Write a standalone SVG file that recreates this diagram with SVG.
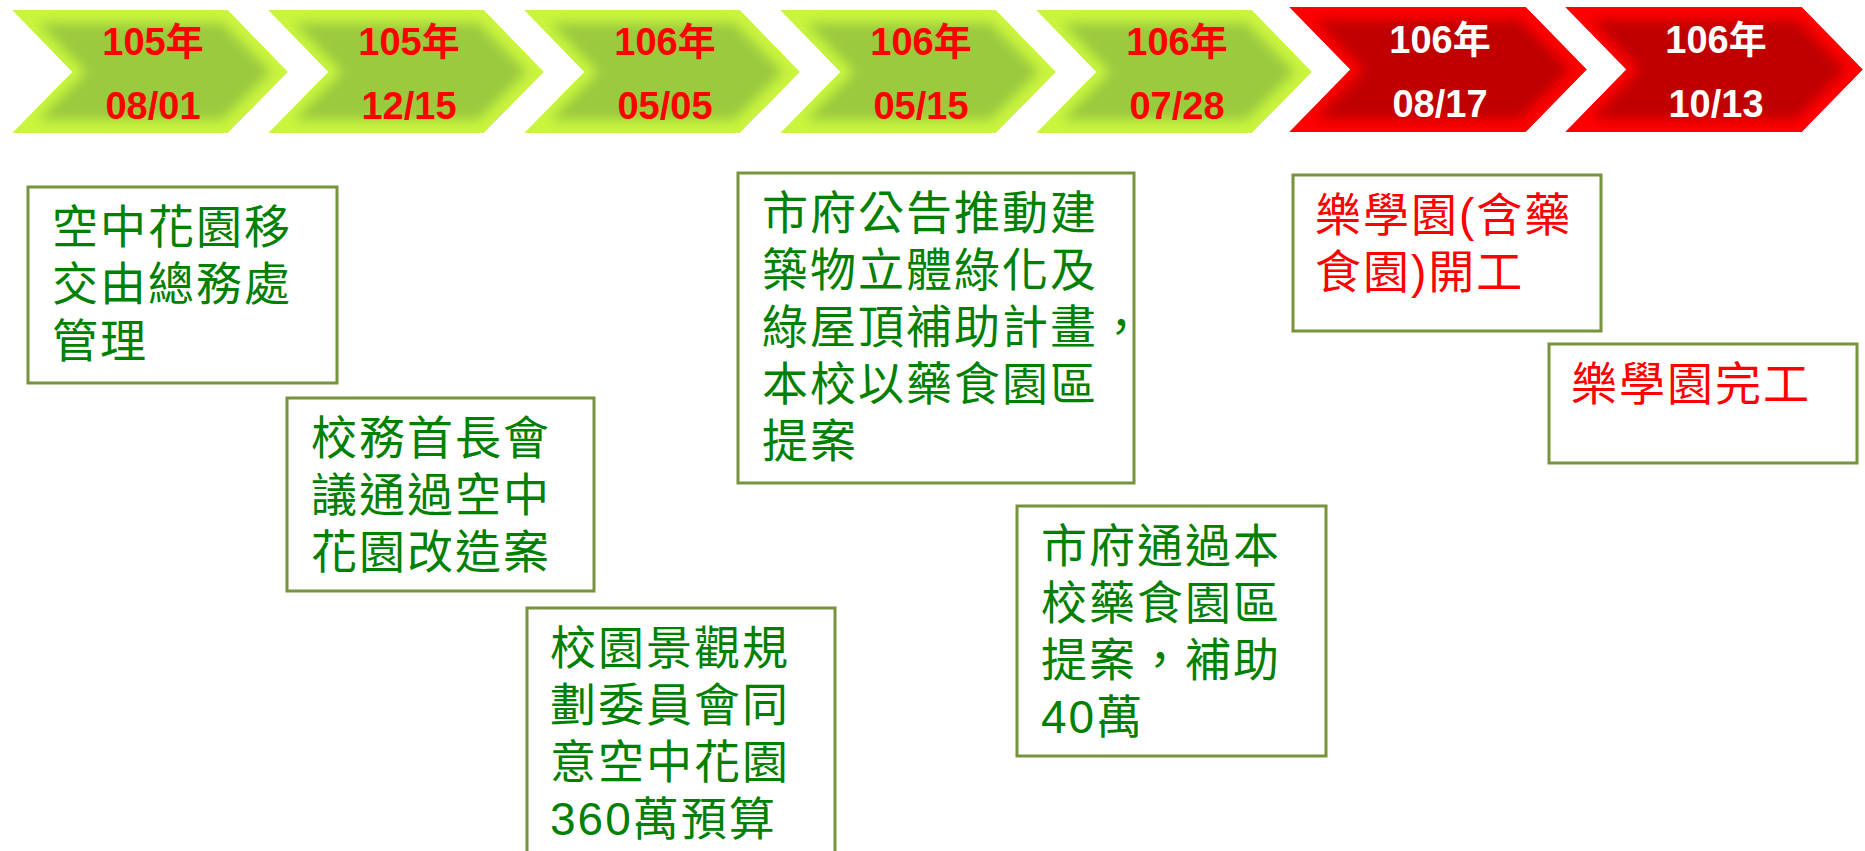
<svg xmlns="http://www.w3.org/2000/svg" width="1865" height="851" viewBox="0 0 1865 851">
<style>
.gout{fill:#C9F53E}
.gin{fill:#9ACA3C}
.rout{fill:#FF0000}
.rin{fill:#C00000}
.ct{font-family:"Liberation Sans","Noto Sans CJK TC",sans-serif;font-size:38px;font-weight:bold;text-anchor:middle}
.ctg{fill:#FF0000}
.ctr{fill:#FFFFFF}
.box{fill:#FFFFFF;stroke:#77933C;stroke-width:3}
.bt{font-family:"Liberation Sans","Noto Sans CJK TC",sans-serif;font-size:46px;letter-spacing:2px}
.btg{fill:#008000}
.btr{fill:#FF0000}
</style>
<defs>
<filter id="blur" x="-20%" y="-20%" width="140%" height="140%"><feGaussianBlur stdDeviation="6"/></filter>
<clipPath id="gclip"><polygon points="0,0 216,0 276,62 216,123 0,123 60,62"/></clipPath>
<clipPath id="rclip"><polygon points="0,0 237,0 298,62.5 237,125 0,125 61,62.5"/></clipPath>
</defs>
<g id="timeline">
<g id="chev1" transform="translate(12,10)">
<g clip-path="url(#gclip)"><polygon class="gout" points="0,0 216,0 276,62 216,123 0,123 60,62"/><polygon class="gin" filter="url(#blur)" points="26,13 210,13 259,62 210,110 26,110 74,62"/></g>
<text class="ct ctg" x="141" y="45">105年</text><text class="ct ctg" x="141" y="109">08/01</text>
</g>
<g id="chev2" transform="translate(268,10)">
<g clip-path="url(#gclip)"><polygon class="gout" points="0,0 216,0 276,62 216,123 0,123 60,62"/><polygon class="gin" filter="url(#blur)" points="26,13 210,13 259,62 210,110 26,110 74,62"/></g>
<text class="ct ctg" x="141" y="45">105年</text><text class="ct ctg" x="141" y="109">12/15</text>
</g>
<g id="chev3" transform="translate(524,10)">
<g clip-path="url(#gclip)"><polygon class="gout" points="0,0 216,0 276,62 216,123 0,123 60,62"/><polygon class="gin" filter="url(#blur)" points="26,13 210,13 259,62 210,110 26,110 74,62"/></g>
<text class="ct ctg" x="141" y="45">106年</text><text class="ct ctg" x="141" y="109">05/05</text>
</g>
<g id="chev4" transform="translate(780,10)">
<g clip-path="url(#gclip)"><polygon class="gout" points="0,0 216,0 276,62 216,123 0,123 60,62"/><polygon class="gin" filter="url(#blur)" points="26,13 210,13 259,62 210,110 26,110 74,62"/></g>
<text class="ct ctg" x="141" y="45">106年</text><text class="ct ctg" x="141" y="109">05/15</text>
</g>
<g id="chev5" transform="translate(1036,10)">
<g clip-path="url(#gclip)"><polygon class="gout" points="0,0 216,0 276,62 216,123 0,123 60,62"/><polygon class="gin" filter="url(#blur)" points="26,13 210,13 259,62 210,110 26,110 74,62"/></g>
<text class="ct ctg" x="141" y="45">106年</text><text class="ct ctg" x="141" y="109">07/28</text>
</g>
<g id="chev6" transform="translate(1289,7)">
<g clip-path="url(#rclip)"><polygon class="rout" points="0,0 237,0 298,62.5 237,125 0,125 61,62.5"/><polygon class="rin" filter="url(#blur)" points="26,13 231,13 281,62.5 231,112 26,112 75,62.5"/></g>
<text class="ct ctr" x="151" y="46">106年</text><text class="ct ctr" x="151" y="110">08/17</text>
</g>
<g id="chev7" transform="translate(1565,7)">
<g clip-path="url(#rclip)"><polygon class="rout" points="0,0 237,0 298,62.5 237,125 0,125 61,62.5"/><polygon class="rin" filter="url(#blur)" points="26,13 231,13 281,62.5 231,112 26,112 75,62.5"/></g>
<text class="ct ctr" x="151" y="46">106年</text><text class="ct ctr" x="151" y="110">10/13</text>
</g>
</g>
<g id="connectors"></g>
<g id="box1">
<rect class="box" x="28" y="187" width="309" height="196"/>
<text class="bt btg" x="52" y="243">空中花園移</text>
<text class="bt btg" x="52" y="300">交由總務處</text>
<text class="bt btg" x="52" y="357">管理</text>
</g>
<g id="box2">
<rect class="box" x="287" y="398" width="307" height="193"/>
<text class="bt btg" x="311" y="454">校務首長會</text>
<text class="bt btg" x="311" y="511">議通過空中</text>
<text class="bt btg" x="311" y="568">花園改造案</text>
</g>
<g id="box3">
<rect class="box" x="527" y="608" width="308" height="270"/>
<text class="bt btg" x="550" y="664">校園景觀規</text>
<text class="bt btg" x="550" y="721">劃委員會同</text>
<text class="bt btg" x="550" y="778">意空中花園</text>
<text class="bt btg" x="550" y="835">360萬預算</text>
</g>
<g id="box4">
<rect class="box" x="738" y="173" width="396" height="310"/>
<text class="bt btg" x="762" y="229">市府公告推動建</text>
<text class="bt btg" x="762" y="286">築物立體綠化及</text>
<text class="bt btg" x="762" y="343">綠屋頂補助計畫，</text>
<text class="bt btg" x="762" y="400">本校以藥食園區</text>
<text class="bt btg" x="762" y="457">提案</text>
</g>
<g id="box5">
<rect class="box" x="1017" y="506" width="309" height="250"/>
<text class="bt btg" x="1041" y="562">市府通過本</text>
<text class="bt btg" x="1041" y="619">校藥食園區</text>
<text class="bt btg" x="1041" y="676">提案，補助</text>
<text class="bt btg" x="1041" y="733">40萬</text>
</g>
<g id="box6">
<rect class="box" x="1293" y="175" width="308" height="156"/>
<text class="bt btr" x="1315" y="231">樂學園(含藥</text>
<text class="bt btr" x="1315" y="288">食園)開工</text>
</g>
<g id="box7">
<rect class="box" x="1549" y="344" width="308" height="119"/>
<text class="bt btr" x="1571" y="400">樂學園完工</text>
</g>
</svg>
